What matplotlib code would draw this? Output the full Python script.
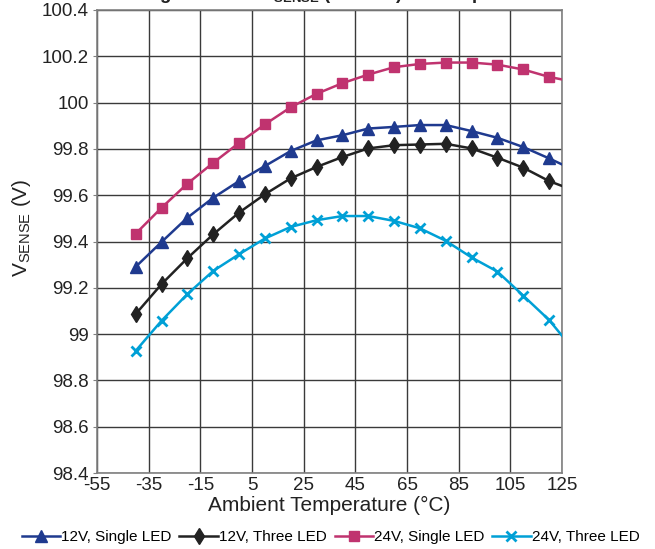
import numpy as np
import matplotlib
matplotlib.use("Agg")
import matplotlib.pyplot as plt
from matplotlib.ticker import FuncFormatter

plt.rcParams["font.family"] = ["Liberation Sans", "DejaVu Sans"]
plt.rcParams["mathtext.fontset"] = "custom"
plt.rcParams["mathtext.rm"] = "Liberation Sans"
plt.rcParams["mathtext.default"] = "regular"
plt.rcParams["axes.unicode_minus"] = False

# data
temp = [-40, -30, -20, -10, 0, 10, 20, 30, 40, 50, 60, 70, 80, 90, 100, 110, 120, 125]
v12_single = [99.291, 99.398, 99.503, 99.589, 99.661, 99.726, 99.791, 99.837, 99.859,
              99.888, 99.895, 99.903, 99.903, 99.877, 99.848, 99.808, 99.759, 99.733]
v12_three = [99.087, 99.216, 99.328, 99.431, 99.525, 99.604, 99.673, 99.722, 99.765,
             99.802, 99.816, 99.819, 99.822, 99.802, 99.762, 99.719, 99.661, 99.640]
v24_single = [99.434, 99.546, 99.650, 99.740, 99.826, 99.906, 99.980, 100.038, 100.084,
              100.121, 100.153, 100.167, 100.173, 100.173, 100.164, 100.143, 100.111, 100.100]
v24_three = [98.928, 99.058, 99.173, 99.273, 99.345, 99.413, 99.463, 99.492, 99.510,
             99.510, 99.489, 99.457, 99.403, 99.331, 99.270, 99.166, 99.061, 98.993]

series = [
    ("12V, Single LED", v12_single, "#1f3a8f", "^", 8, 1),
    ("12V, Three LED", v12_three, "#222222", "d", 8, 1),
    ("24V, Single LED", v24_single, "#c0336f", "s", 7.5, 1),
    ("24V, Three LED", v24_three, "#00a0d6", "x", 7, 2),
]

fig = plt.figure(figsize=(6.55, 5.49), dpi=100, facecolor="w")
ax = fig.add_axes([97 / 655, 1 - 473 / 549, 465 / 655, 463 / 549])

for label, vals, color, marker, ms, mew in series:
    ax.plot(temp, vals, color=color, lw=1.8, marker=marker, ms=ms, mew=mew,
            mec=color, mfc=color, markevery=slice(0, 17), label=label, zorder=3)

ax.set_xlim(-55, 125)
ax.set_ylim(98.4, 100.4)
ax.set_xticks(np.arange(-55, 126, 20))
ax.set_yticks(np.arange(98.4, 100.41, 0.2))
ax.yaxis.set_major_formatter(FuncFormatter(lambda v, p: "%g" % round(v, 1)))
ax.grid(True, color="#3a3a3a", lw=1.0)
for s in ax.spines.values():
    s.set_color("#808080")
    s.set_linewidth(1.2)
ax.tick_params(axis="x", length=0, labelsize=13.5, pad=3, colors="#222222")
ax.tick_params(axis="y", length=3, labelsize=13.5, pad=3, colors="#222222", color="#808080")

ax.set_xlabel("Ambient Temperature (\u00b0C)", fontsize=15, color="#222222", labelpad=1)
ax.set_ylabel(r"V$_{SENSE}$ (V)", fontsize=15, color="#222222")
ax.yaxis.set_label_coords(-0.138, 0.529)

# title is clipped at the top edge in the reference
fig.text(0.522, 1 + 1 / 549, r"Regulation of V$_{SENSE}$ (100 mV) vs Temperature",
         ha="center", va="baseline", fontsize=13.5, fontweight="bold", color="#222222")

ax.legend(loc="center", bbox_to_anchor=(0.505, 0.022), bbox_transform=fig.transFigure,
          ncol=4, frameon=False, fontsize=11, handlelength=2.5, handletextpad=0.1,
          columnspacing=0.5, borderaxespad=0)

fig.savefig("out.png", dpi=100)
